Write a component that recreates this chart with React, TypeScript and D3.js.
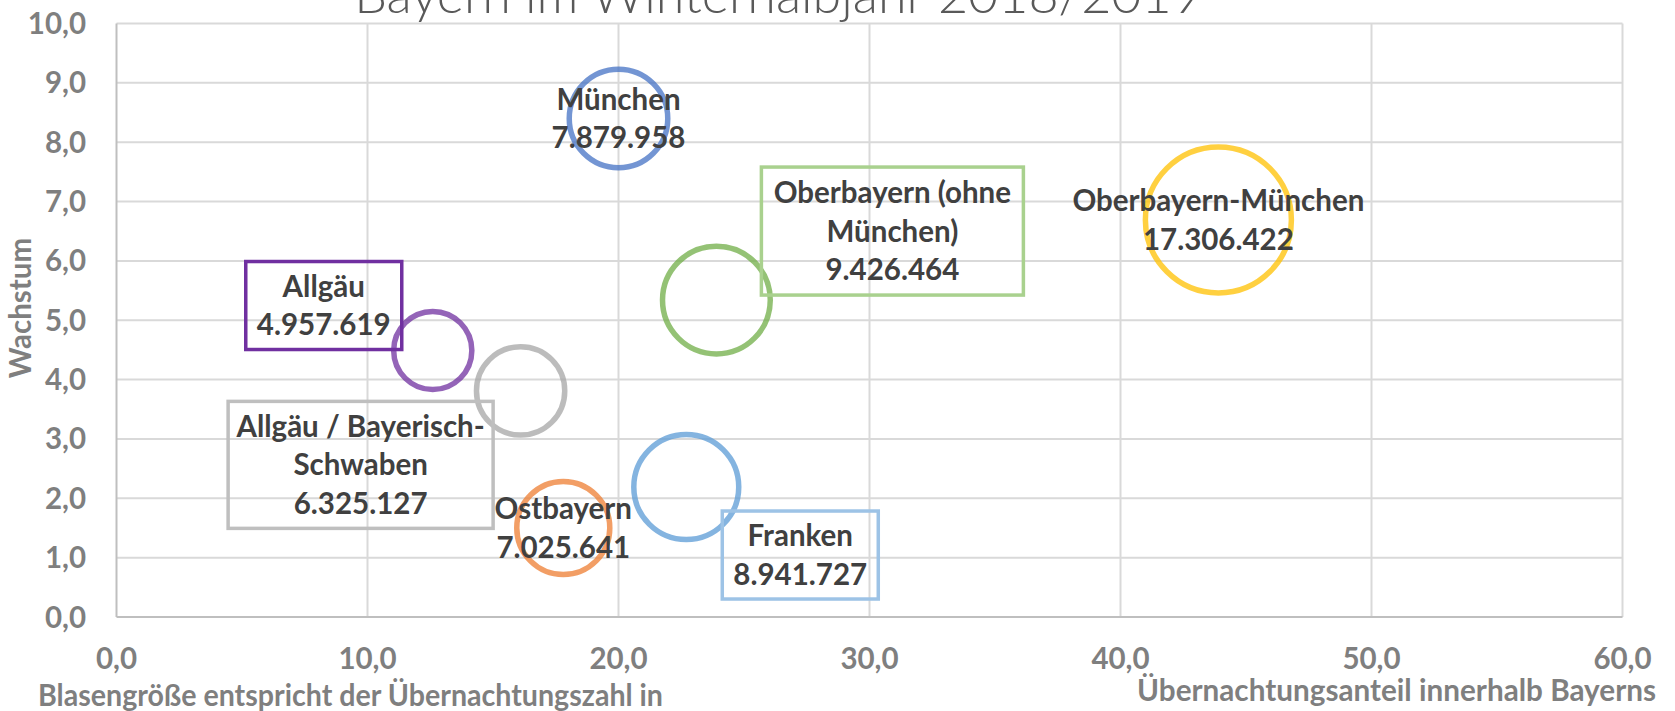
import React from 'react';
import * as d3 from 'd3';

// ---- data ----
const regionNames = [
  'München',
  'Oberbayern-München',
  'Oberbayern (ohne München)',
  'Allgäu',
  'Allgäu / Bayerisch-Schwaben',
  'Ostbayern',
  'Franken',
];
// x: Übernachtungsanteil innerhalb Bayerns (%)
const shareValues = [20.0, 43.9, 23.9, 12.6, 16.1, 17.8, 22.7];
// y: Wachstum (%)
const growthValues = [8.4, 6.69, 5.34, 4.49, 3.81, 1.5, 2.19];
// bubble size: Übernachtungen
const nightValues = [7879958, 17306422, 9426464, 4957619, 6325127, 7025641, 8941727];
// label name lines as wrapped in the chart
const labelNameLines = [
  ['München'],
  ['Oberbayern-München'],
  ['Oberbayern (ohne', 'München)'],
  ['Allgäu'],
  ['Allgäu / Bayerisch-', 'Schwaben'],
  ['Ostbayern'],
  ['Franken'],
];
const xTickValues = [0, 10, 20, 30, 40, 50, 60];
const yTickValues = [0, 1, 2, 3, 4, 5, 6, 7, 8, 9, 10];
const titleText = 'Bayern im Winterhalbjahr 2018/2019';
const yAxisTitle = 'Wachstum';
const xAxisTitleLeft = 'Blasengröße entspricht der Übernachtungszahl in';
const xAxisTitleRight = 'Übernachtungsanteil innerhalb Bayerns';

// ---- styles / layout ----
const seriesColors = ['#4472C4', '#FFC000', '#70AD47', '#7030A0', '#A5A5A5', '#ED7D31', '#5B9BD5'];
const boxColors = [null, null, '#A9D18E', '#7030A0', '#BFBFBF', null, '#9DC3E6'];
// label centre offset from bubble centre (px) and box size
const labelLayout = [
  { dx: 0, dy: 0, w: 0, h: 0 },
  { dx: 0, dy: 0, w: 0, h: 0 },
  { dx: 176, dy: -69, w: 262, h: 128 },
  { dx: -109, dy: -45, w: 156, h: 88 },
  { dx: -160, dy: 74, w: 265, h: 127 },
  { dx: 0, dy: 0, w: 0, h: 0 },
  { dx: 114, dy: 68, w: 156, h: 88 },
];

const W = 1675;
const H = 711;
const plot = { left: 116.5, right: 1622.5, top: 23.5, bottom: 617 };
const FONT = 'Lato, "Open Sans", "DejaVu Sans", sans-serif';
const LINE_H = 38.5;
const LABEL_SIZE = 29.5;

const de = d3.formatLocale({ decimal: ',', thousands: '.', grouping: [3], currency: ['', '€'] });
const fmtTick = de.format('.1f');
const fmtInt = de.format(',d');

export default function App() {
  const x = d3.scaleLinear().domain([0, 60]).range([plot.left, plot.right]);
  const y = d3.scaleLinear().domain([0, 10]).range([plot.bottom, plot.top]);
  const r = d3.scaleSqrt().domain([0, d3.max(nightValues) as number]).range([0, 73]);

  return (
    <svg
      width={W}
      height={H}
      style={{ position: 'absolute', left: 0, top: 0, display: 'block', background: '#fff' }}
      fontFamily={FONT}
    >
      {/* title (cut at top, as in the original) */}
      <text x={778} y={13} textAnchor="middle" fontSize={52} fontWeight={300} fill="#595959">
        {titleText}
      </text>

      {/* gridlines */}
      {yTickValues.filter((v) => v > 0).map((v) => (
        <line key={'gy' + v} x1={plot.left} x2={plot.right} y1={y(v)} y2={y(v)} stroke="#D9D9D9" strokeWidth={2} />
      ))}
      {xTickValues.filter((v) => v > 0).map((v) => (
        <line key={'gx' + v} x1={x(v)} x2={x(v)} y1={plot.top} y2={plot.bottom} stroke="#D9D9D9" strokeWidth={2} />
      ))}
      {/* axes */}
      <line x1={plot.left} x2={plot.left} y1={plot.top} y2={plot.bottom} stroke="#BFBFBF" strokeWidth={2} />
      <line x1={plot.left} x2={plot.right} y1={plot.bottom} y2={plot.bottom} stroke="#BFBFBF" strokeWidth={2} />

      {/* y tick labels */}
      {yTickValues.map((v) => (
        <text key={'ty' + v} x={86} y={y(v) + 10.5} textAnchor="end" fontSize={29.5} fontWeight={700} fill="#7F7F7F">
          {fmtTick(v)}
        </text>
      ))}
      {/* x tick labels */}
      {xTickValues.map((v) => (
        <text key={'tx' + v} x={x(v)} y={669} textAnchor="middle" fontSize={29.5} fontWeight={700} fill="#7F7F7F">
          {fmtTick(v)}
        </text>
      ))}

      {/* axis titles */}
      <text
        transform={`translate(31, ${308}) rotate(-90)`}
        textAnchor="middle"
        fontSize={29.5}
        fontWeight={700}
        fill="#7F7F7F"
      >
        {yAxisTitle}
      </text>
      <text
        x={38}
        y={706}
        fontSize={29.5}
        fontWeight={700}
        fill="#7F7F7F"
        textLength={625}
        lengthAdjust="spacingAndGlyphs"
      >
        {xAxisTitleLeft}
      </text>
      <text
        x={1137}
        y={701}
        fontSize={29.5}
        fontWeight={700}
        fill="#7F7F7F"
        textLength={519}
        lengthAdjust="spacingAndGlyphs"
      >
        {xAxisTitleRight}
      </text>

      {/* bubbles */}
      {regionNames.map((name, i) => (
        <circle
          key={'b' + name}
          cx={x(shareValues[i])}
          cy={y(growthValues[i])}
          r={r(nightValues[i])}
          fill="none"
          stroke={seriesColors[i]}
          strokeOpacity={0.75}
          strokeWidth={5.5}
        />
      ))}

      {/* labels */}
      {regionNames.map((name, i) => {
        const cx = x(shareValues[i]) + labelLayout[i].dx;
        const cy = y(growthValues[i]) + labelLayout[i].dy;
        const lines = [...labelNameLines[i], fmtInt(nightValues[i])];
        const first = cy - ((lines.length - 1) / 2) * LINE_H + 10.6;
        const box = boxColors[i];
        return (
          <g key={'l' + name}>
            {box && (
              <rect
                x={cx - labelLayout[i].w / 2}
                y={cy - labelLayout[i].h / 2}
                width={labelLayout[i].w}
                height={labelLayout[i].h}
                fill="none"
                stroke={box}
                strokeWidth={3.5}
              />
            )}
            {lines.map((ln, j) => (
              <text
                key={j}
                x={cx}
                y={first + j * LINE_H}
                textAnchor="middle"
                fontSize={LABEL_SIZE}
                fontWeight={700}
                fill="#404040"
              >
                {ln}
              </text>
            ))}
          </g>
        );
      })}
    </svg>
  );
}
